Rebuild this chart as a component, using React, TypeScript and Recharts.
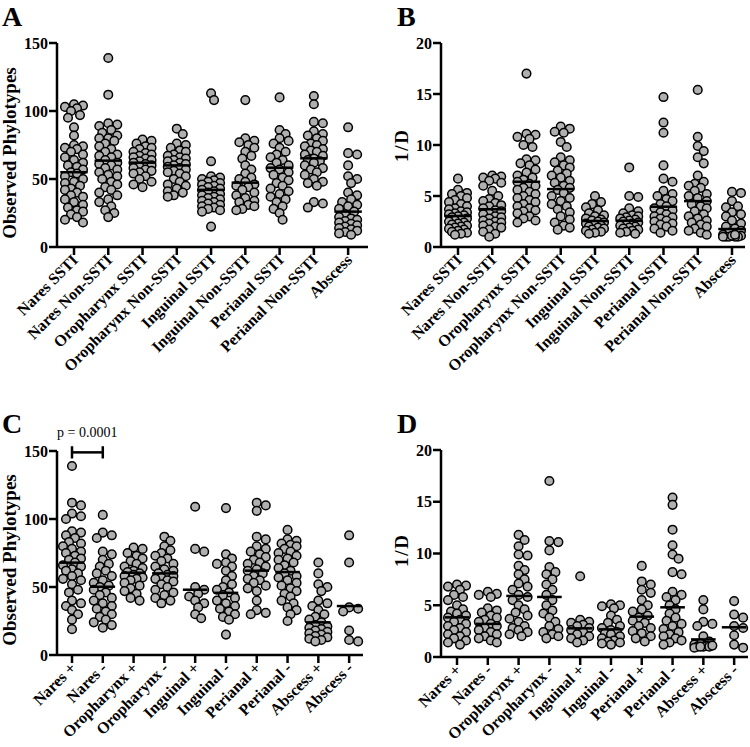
import React from 'react';
import { ScatterChart, Scatter, XAxis, YAxis, ReferenceLine } from 'recharts';

const FONT = "Liberation Serif, Times New Roman, Times, serif";

const categoriesAB = ['Nares SSTI', 'Nares Non-SSTI', 'Oropharynx SSTI', 'Oropharynx Non-SSTI', 'Inguinal SSTI', 'Inguinal Non-SSTI', 'Perianal SSTI', 'Perianal Non-SSTI', 'Abscess'];
const categoriesCD = ['Nares +', 'Nares -', 'Oropharynx +', 'Oropharynx -', 'Inguinal +', 'Inguinal -', 'Perianal +', 'Perianal -', 'Abscess +', 'Abscess -'];
const ticksPhylo = [0, 50, 100, 150];
const ticksInvD = [0, 5, 10, 15, 20];

const aNaresSSTI = [105, 104, 103, 102, 100, 97, 95, 88, 82, 75, 74, 73, 72, 70, 68, 66, 64, 62, 60, 59, 57, 55, 54, 52, 50, 48, 47, 45, 43, 42, 40, 38, 37, 35, 33, 31, 29, 27, 26, 24, 22, 20, 18];
const aNaresNonSSTI = [139, 112, 91, 90, 89, 86, 84, 82, 80, 80, 78, 76, 74, 72, 70, 68, 67, 66, 64, 62, 61, 60, 58, 57, 55, 53, 52, 50, 48, 46, 44, 42, 40, 38, 35, 33, 30, 27, 25, 22];
const aOroSSTI = [79, 78, 76, 74, 73, 72, 70, 69, 68, 67, 66, 65, 64, 63, 62, 61, 60, 59, 58, 57, 56, 55, 54, 52, 50, 48, 46, 44];
const aOroNonSSTI = [87, 83, 76, 75, 73, 71, 70, 68, 67, 66, 65, 64, 63, 62, 61, 60, 59, 58, 57, 56, 55, 54, 52, 50, 48, 46, 45, 43, 41, 40, 38, 37];
const aIngSSTI = [113, 108, 63, 52, 51, 50, 49, 48, 47, 46, 45, 44, 43, 42, 41, 40, 39, 38, 37, 36, 35, 34, 33, 32, 31, 30, 29, 28, 27, 26, 15];
const aIngNonSSTI = [108, 80, 78, 77, 75, 73, 70, 67, 65, 60, 57, 54, 51, 50, 48, 46, 45, 44, 42, 40, 38, 36, 34, 33, 31, 30, 28, 27];
const aPerSSTI = [110, 86, 83, 80, 78, 76, 73, 70, 68, 66, 64, 62, 60, 58, 57, 55, 53, 51, 49, 47, 45, 43, 41, 39, 37, 35, 33, 30, 28, 25, 20];
const aPerNonSSTI = [111, 105, 92, 91, 85, 83, 82, 80, 78, 76, 75, 74, 72, 71, 70, 68, 67, 65, 64, 63, 62, 60, 58, 57, 55, 53, 50, 48, 47, 45, 33, 32, 29];
const aAbscess = [88, 69, 68, 60, 52, 50, 47, 40, 38, 35, 33, 31, 30, 28, 26, 24, 22, 21, 20, 19, 18, 17, 16, 15, 14, 13, 12, 11, 10, 9];
const meansA = [55, 63.5, 62, 60, 42, 47.3, 58.3, 65.2, 26];

const bNaresSSTI = [6.7, 5.6, 5.3, 5.2, 5.0, 4.8, 4.6, 4.4, 4.2, 4.0, 3.8, 3.7, 3.5, 3.4, 3.3, 3.2, 3.1, 3.0, 2.9, 2.8, 2.7, 2.6, 2.5, 2.4, 2.3, 2.2, 2.1, 2.0, 1.9, 1.8, 1.7, 1.6, 1.5, 1.4, 1.3, 1.2];
const bNaresNonSSTI = [7.0, 6.9, 6.8, 6.7, 6.5, 6.3, 6.0, 5.5, 5.0, 4.7, 4.5, 4.3, 4.1, 4.0, 3.8, 3.6, 3.5, 3.3, 3.2, 3.0, 2.9, 2.8, 2.6, 2.5, 2.4, 2.3, 2.1, 2.0, 1.9, 1.7, 1.5, 1.3, 1.0];
const bOroSSTI = [17.0, 11.1, 11.0, 10.8, 10.6, 10.0, 9.8, 8.6, 8.5, 8.2, 8.0, 7.6, 7.3, 7.0, 6.8, 6.6, 6.4, 6.2, 6.0, 5.8, 5.6, 5.4, 5.2, 5.0, 4.8, 4.6, 4.4, 4.2, 4.0, 3.8, 3.6, 3.5, 3.3, 3.0, 2.8, 2.6, 2.4];
const bOroNonSSTI = [11.8, 11.6, 11.3, 11.2, 10.3, 9.8, 8.8, 8.5, 8.3, 8.0, 7.8, 7.5, 7.2, 7.0, 6.8, 6.5, 6.3, 6.0, 5.8, 5.6, 5.3, 5.0, 4.8, 4.5, 4.2, 4.0, 3.7, 3.4, 3.0, 2.7, 2.4, 2.1, 1.9, 1.7];
const bIngSSTI = [5.0, 4.4, 4.2, 3.9, 3.6, 3.3, 3.1, 3.0, 2.8, 2.7, 2.6, 2.5, 2.4, 2.3, 2.2, 2.1, 2.0, 1.9, 1.8, 1.7, 1.6, 1.5, 1.4, 1.3];
const bIngNonSSTI = [7.8, 5.0, 4.9, 3.8, 3.5, 3.3, 3.1, 3.0, 2.9, 2.8, 2.7, 2.6, 2.5, 2.4, 2.3, 2.2, 2.1, 2.0, 1.9, 1.8, 1.7, 1.6, 1.5, 1.4, 1.3];
const bPerSSTI = [14.7, 12.2, 11.2, 8.0, 6.7, 6.4, 5.5, 5.2, 5.0, 4.7, 4.5, 4.2, 4.0, 3.8, 3.6, 3.4, 3.2, 3.0, 2.9, 2.8, 2.6, 2.5, 2.3, 2.2, 2.0, 1.8, 1.6, 1.4];
const bPerNonSSTI = [15.4, 10.8, 9.9, 9.4, 8.8, 8.2, 7.0, 6.4, 6.2, 6.0, 5.8, 5.5, 5.2, 5.0, 4.8, 4.5, 4.2, 4.0, 3.8, 3.5, 3.2, 3.0, 2.8, 2.6, 2.4, 2.2, 2.0, 1.8, 1.6, 1.4, 1.2];
const bAbscess = [5.4, 5.3, 4.5, 4.0, 3.9, 3.4, 3.2, 3.0, 2.6, 2.3, 2.0, 1.8, 1.6, 1.4, 1.2, 1.1, 1.0, 1.0, 1.0, 1.0, 1.0, 1.1, 1.2];
const meansB = [3.04, 3.7, 6.4, 5.68, 2.55, 2.58, 3.95, 4.5, 1.76];

const cNaresPos = [139, 112, 110, 104, 102, 100, 91, 90, 88, 86, 83, 82, 80, 78, 76, 75, 73, 71, 70, 68, 66, 65, 63, 62, 60, 58, 56, 55, 52, 48, 46, 40, 38, 36, 33, 30, 26, 19];
const cNaresNeg = [103, 90, 88, 86, 76, 74, 70, 67, 65, 62, 60, 58, 55, 53, 51, 50, 48, 46, 44, 42, 40, 38, 36, 34, 32, 30, 28, 26, 24, 22, 20];
const cOroPos = [79, 78, 75, 73, 71, 69, 67, 65, 64, 62, 61, 60, 59, 58, 57, 56, 55, 53, 51, 49, 47, 45, 42, 40];
const cOroNeg = [87, 84, 80, 77, 75, 73, 71, 69, 67, 65, 63, 62, 60, 59, 58, 57, 56, 55, 54, 52, 50, 48, 46, 44, 42, 40, 38];
const cIngPos = [109, 78, 76, 50, 48, 45, 43, 40, 38, 35, 30, 27];
const cIngNeg = [108, 74, 71, 68, 67, 65, 62, 58, 55, 52, 50, 48, 46, 44, 42, 40, 38, 36, 34, 32, 30, 28, 26, 15];
const cPerPos = [112, 110, 106, 87, 85, 80, 78, 76, 74, 72, 70, 68, 67, 65, 63, 62, 60, 58, 56, 55, 53, 51, 49, 47, 40, 33, 31, 30];
const cPerNeg = [92, 85, 84, 82, 81, 80, 78, 76, 75, 73, 71, 70, 68, 66, 64, 62, 60, 58, 57, 55, 53, 51, 49, 47, 45, 43, 40, 38, 35, 33, 30, 25];
const cAbsPos = [68, 60, 52, 50, 47, 40, 38, 36, 33, 30, 28, 26, 24, 22, 21, 20, 19, 18, 17, 16, 15, 14, 13, 12, 11, 10];
const cAbsNeg = [88, 68, 35, 34, 32, 18, 10, 11];
const meansC = [67.9, 50.2, 60.5, 60, 48, 45.7, 62, 61, 24, 36];

const dNaresPos = [7.0, 6.9, 6.8, 6.5, 6.0, 5.8, 5.5, 5.0, 4.6, 4.4, 4.2, 4.0, 3.8, 3.6, 3.4, 3.2, 3.0, 2.8, 2.6, 2.4, 2.2, 2.0, 1.8, 1.6, 1.4, 1.2];
const dNaresNeg = [6.3, 6.1, 6.0, 5.8, 4.7, 4.5, 4.3, 4.0, 3.8, 3.6, 3.4, 3.2, 3.0, 2.8, 2.6, 2.4, 2.2, 2.0, 1.8, 1.6, 1.4];
const dOroPos = [11.8, 11.3, 10.7, 9.9, 9.8, 8.8, 8.4, 8.0, 7.5, 7.1, 6.8, 6.5, 6.0, 5.8, 5.5, 5.0, 4.6, 4.3, 4.0, 3.7, 3.4, 3.0, 2.8, 2.6, 2.4, 2.2, 2.0];
const dOroNeg = [17.0, 11.2, 11.1, 10.3, 8.7, 8.2, 8.0, 7.5, 7.0, 6.5, 6.0, 5.5, 5.0, 4.5, 4.2, 3.8, 3.4, 3.0, 2.7, 2.4, 2.2, 2.0, 1.8];
const dIngPos = [7.8, 3.6, 3.4, 3.3, 3.1, 3.0, 2.8, 2.6, 2.4, 2.2, 2.0, 1.8, 1.6, 1.4];
const dIngNeg = [5.1, 5.0, 4.9, 4.7, 4.0, 3.6, 3.3, 3.0, 2.8, 2.6, 2.4, 2.3, 2.2, 2.0, 1.8, 1.6, 1.5, 1.4, 1.3, 1.2];
const dPerPos = [8.8, 7.3, 7.0, 6.5, 6.2, 5.5, 5.0, 4.6, 4.4, 4.0, 3.8, 3.5, 3.3, 3.0, 2.8, 2.5, 2.3, 2.0, 1.8, 1.5];
const dPerNeg = [15.4, 14.7, 12.3, 10.8, 9.9, 9.5, 8.2, 8.0, 6.3, 6.0, 5.8, 5.5, 5.0, 4.6, 4.2, 3.8, 3.5, 3.2, 3.0, 2.7, 2.4, 2.2, 2.0, 1.8, 1.6, 1.4, 1.2];
const dAbsPos = [5.5, 4.6, 3.4, 3.2, 3.0, 2.0, 1.5, 1.3, 1.2, 1.1, 1.0, 1.0, 1.0, 1.1, 0.9, 1.0];
const dAbsNeg = [5.4, 4.1, 3.8, 3.0, 2.8, 2.1, 1.2, 0.9];
const meansD = [3.83, 3.2, 5.9, 5.8, 2.77, 2.67, 3.9, 4.8, 1.7, 2.87];

const seriesA = [aNaresSSTI, aNaresNonSSTI, aOroSSTI, aOroNonSSTI, aIngSSTI, aIngNonSSTI, aPerSSTI, aPerNonSSTI, aAbscess];
const seriesB = [bNaresSSTI, bNaresNonSSTI, bOroSSTI, bOroNonSSTI, bIngSSTI, bIngNonSSTI, bPerSSTI, bPerNonSSTI, bAbscess];
const seriesC = [cNaresPos, cNaresNeg, cOroPos, cOroNeg, cIngPos, cIngNeg, cPerPos, cPerNeg, cAbsPos, cAbsNeg];
const seriesD = [dNaresPos, dNaresNeg, dOroPos, dOroNeg, dIngPos, dIngNeg, dPerPos, dPerNeg, dAbsPos, dAbsNeg];

// deterministic dot-plot spreading (horizontal offsets, category units)
function swarmOffsets(values: number[], pxX: number, pxY: number, maxOff: number, minDist: number): number[] {
  const order = values.map((_, i) => i).sort((a, b) => values[b] - values[a]);
  const cands: number[] = [0];
  for (let s = 3; s <= maxOff + 0.01; s += 3) { cands.push(s, -s); }
  const placed: { x: number; y: number }[] = [];
  const out: number[] = new Array(values.length).fill(0);
  for (const idx of order) {
    const y = values[idx] * pxY;
    let best = 0;
    let bestD = -1;
    for (const c of cands) {
      let d = Infinity;
      for (const p of placed) {
        const dd = Math.hypot(p.x - c, p.y - y);
        if (dd < d) d = dd;
      }
      if (d >= minDist) { best = c; bestD = d; break; }
      if (d > bestD) { bestD = d; best = c; }
    }
    placed.push({ x: best, y });
    out[idx] = best / pxX;
  }
  return out;
}

const Dot = (p: any) => (
  <circle cx={p.cx} cy={p.cy} r={4.3} fill="#b0b0b0" stroke="#000" strokeWidth={1.5} />
);

const makeMean = (half: number) => (p: any) => (
  <line x1={p.cx - half} x2={p.cx + half} y1={p.cy} y2={p.cy} stroke="#000" strokeWidth={2.5} />
);

const XTick = (props: any) => {
  const { x, y, payload, cats } = props;
  return (
    <g transform={`translate(${x + 5},${y + 5})`}>
      <text textAnchor="end" transform="rotate(-45)" style={{ fontFamily: FONT }} fontWeight="bold" fontSize={16} fill="#000">
        {cats[payload.value]}
      </text>
    </g>
  );
};

type PanelProps = {
  left: number; top: number; width: number; height: number;
  margin: { top: number; right: number; bottom: number; left: number };
  yAxisWidth: number; xAxisHeight: number;
  xDomain: [number, number]; cats: string[];
  yDomain: [number, number]; yTicks: number[];
  series: number[][]; means: number[];
  pxX: number; pxY: number;
  children?: React.ReactNode;
};

function Panel(props: PanelProps) {
  const { left, top, width, height, margin, yAxisWidth, xAxisHeight, xDomain, cats, yDomain, yTicks, series, means, pxX, pxY, children } = props;
  const pts: { x: number; y: number }[] = [];
  series.forEach((vals, i) => {
    const offs = swarmOffsets(vals, pxX, pxY, 9, 7);
    vals.forEach((v, j) => pts.push({ x: i + offs[j], y: v }));
  });
  const meanData = means.map((m, i) => ({ x: i, y: m }));
  const xTicks = cats.map((_, i) => i);
  return (
    <div style={{ position: 'absolute', left, top }}>
      <ScatterChart width={width} height={height} margin={margin}>
        <XAxis
          type="number" dataKey="x" domain={xDomain} ticks={xTicks} interval={0}
          height={xAxisHeight} tickSize={8} tickMargin={1}
          axisLine={{ stroke: '#000', strokeWidth: 2.5 }}
          tickLine={{ stroke: '#000', strokeWidth: 2.5 }}
          tick={(tp: any) => <XTick {...tp} cats={cats} />}
        />
        <YAxis
          type="number" dataKey="y" domain={yDomain} ticks={yTicks} interval={0}
          width={yAxisWidth} tickSize={8} tickMargin={1}
          axisLine={{ stroke: '#000', strokeWidth: 2.5 }}
          tickLine={{ stroke: '#000', strokeWidth: 2.5 }}
          tick={{ fill: '#000', fontSize: 16, fontWeight: 'bold', style: { fontFamily: FONT } }}
        />
        <Scatter data={pts} shape={Dot} isAnimationActive={false} />
        <Scatter data={meanData} shape={makeMean(pxX * 0.4)} isAnimationActive={false} />
        {children}
      </ScatterChart>
    </div>
  );
}

const letterStyle = (left: number, top: number): React.CSSProperties => ({
  position: 'absolute', left, top, fontFamily: FONT, fontWeight: 'bold', fontSize: 28, lineHeight: '32px', color: '#000',
});

const yLabelStyle = (cx: number, cy: number, size: number, w: number, extra?: React.CSSProperties): React.CSSProperties => ({
  position: 'absolute', left: cx - w / 2, top: cy - 9, width: w, height: 18, lineHeight: '18px', textAlign: 'center',
  transform: 'rotate(-90deg)', fontFamily: FONT, fontWeight: 'bold', fontSize: size, color: '#000', whiteSpace: 'nowrap', ...extra,
});

export default function App() {
  return (
    <div style={{ position: 'absolute', left: 0, top: 0, width: 750, height: 747, background: '#fff', overflow: 'hidden' }}>
      <Panel
        left={0} top={0} width={375} height={395}
        margin={{ top: 43, right: 7, bottom: 0, left: 0 }}
        yAxisWidth={57} xAxisHeight={148}
        xDomain={[-0.496, 8.58]} cats={categoriesAB}
        yDomain={[0, 150]} yTicks={ticksPhylo}
        series={seriesA} means={meansA} pxX={34.25} pxY={1.36}
      />
      <Panel
        left={375} top={0} width={375} height={395}
        margin={{ top: 43, right: 5, bottom: 0, left: 0 }}
        yAxisWidth={66} xAxisHeight={148}
        xDomain={[-0.496, 8.38]} cats={categoriesAB}
        yDomain={[0, 20]} yTicks={ticksInvD}
        series={seriesB} means={meansB} pxX={34.25} pxY={10.2}
      />
      <Panel
        left={0} top={372} width={375} height={375}
        margin={{ top: 79, right: 12, bottom: 0, left: 0 }}
        yAxisWidth={57} xAxisHeight={92}
        xDomain={[-0.487, 9.45]} cats={categoriesCD}
        yDomain={[0, 150]} yTicks={ticksPhylo}
        series={seriesC} means={meansC} pxX={30.78} pxY={1.36}
      >
        <ReferenceLine segment={[{ x: 0, y: 149 }, { x: 1, y: 149 }]} stroke="#000" strokeWidth={2.5} ifOverflow="visible" />
        <ReferenceLine segment={[{ x: 0, y: 153.5 }, { x: 0, y: 144.5 }]} stroke="#000" strokeWidth={2.5} ifOverflow="visible" />
        <ReferenceLine segment={[{ x: 1, y: 153.5 }, { x: 1, y: 144.5 }]} stroke="#000" strokeWidth={2.5} ifOverflow="visible" />
      </Panel>
      <Panel
        left={375} top={372} width={375} height={375}
        margin={{ top: 78, right: 2, bottom: 0, left: 0 }}
        yAxisWidth={66} xAxisHeight={90}
        xDomain={[-0.52, 9.45]} cats={categoriesCD}
        yDomain={[0, 20]} yTicks={ticksInvD}
        series={seriesD} means={meansD} pxX={30.78} pxY={10.35}
      />
      <div style={letterStyle(2, 1)}>A</div>
      <div style={letterStyle(397, 1)}>B</div>
      <div style={letterStyle(2, 408)}>C</div>
      <div style={letterStyle(397, 408)}>D</div>
      <div style={yLabelStyle(10, 153, 19, 190)}>Observed Phylotypes</div>
      <div style={yLabelStyle(402, 146, 19, 60, { wordSpacing: '-3px' })}>1 / D</div>
      <div style={yLabelStyle(10, 560, 19, 190)}>Observed Phylotypes</div>
      <div style={yLabelStyle(402, 551, 19, 60, { wordSpacing: '-3px' })}>1 / D</div>
      <div style={{ position: 'absolute', left: 57, top: 425, fontFamily: FONT, fontSize: 14, lineHeight: '16px', color: '#000', whiteSpace: 'nowrap' }}>p = 0.0001</div>
    </div>
  );
}
